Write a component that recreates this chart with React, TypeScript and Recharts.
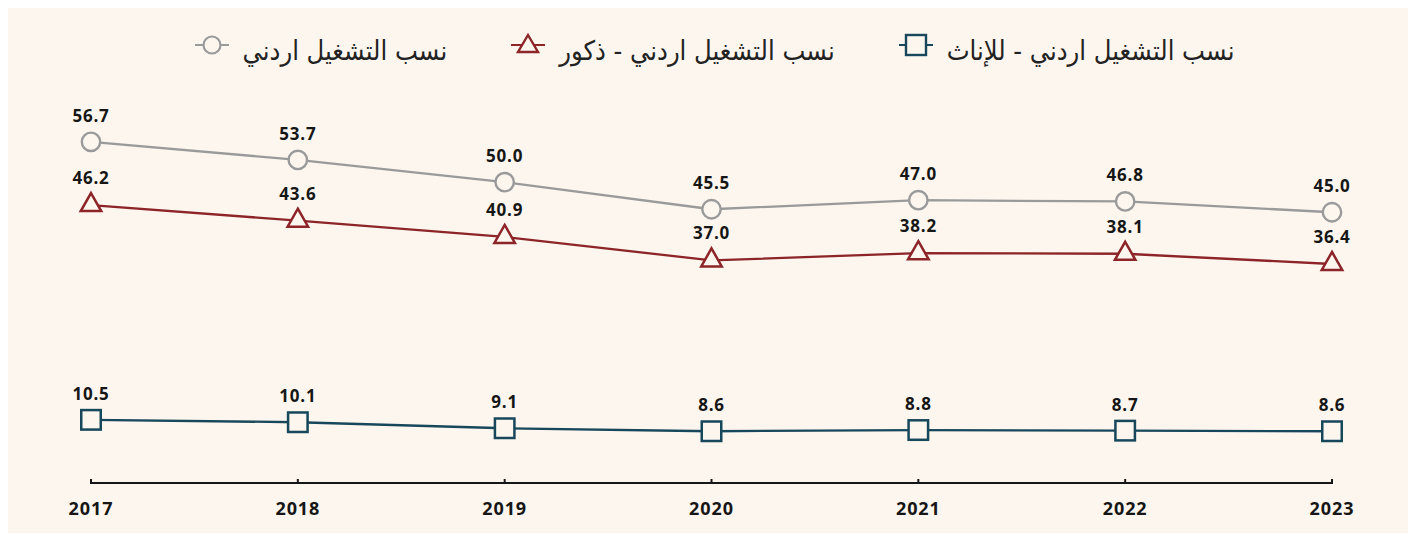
import React from 'react';
import { LineChart, Line, XAxis, YAxis, LabelList } from 'recharts';

const years = ['2017', '2018', '2019', '2020', '2021', '2022', '2023'];
const totalRate = [56.7, 53.7, 50.0, 45.5, 47.0, 46.8, 45.0];
const maleRate = [46.2, 43.6, 40.9, 37.0, 38.2, 38.1, 36.4];
const femaleRate = [10.5, 10.1, 9.1, 8.6, 8.8, 8.7, 8.6];

const seriesNames = {
  total: 'نسب التشغيل اردني',
  male: 'نسب التشغيل اردني - ذكور',
  female: 'نسب التشغيل اردني - للإناث',
};

const BG = '#fdf6ef';
const GRAY = '#9a9a9a';
const RED = '#8c2428';
const NAVY = '#17475b';
const INK = '#161616';

const data = years.map((y, i) => ({
  year: y,
  total: totalRate[i],
  male: maleRate[i],
  female: femaleRate[i],
}));

const circleDot = (props: any) => {
  const { cx, cy, index } = props;
  return <circle key={`c${index}`} cx={cx} cy={cy} r={9.2} fill={BG} stroke={GRAY} strokeWidth={2.4} />;
};

const triangleDot = (props: any) => {
  const { cx, cy, index } = props;
  const w = 20.5;
  const h = 18;
  const d = `M${cx},${cy - (2 * h) / 3} L${cx + w / 2},${cy + h / 3} L${cx - w / 2},${cy + h / 3} Z`;
  return <path key={`t${index}`} d={d} fill={BG} stroke={RED} strokeWidth={2.5} strokeLinejoin="miter" />;
};

const squareDot = (props: any) => {
  const { cx, cy, index } = props;
  const s = 19.5;
  return <rect key={`s${index}`} x={cx - s / 2} y={cy - s / 2} width={s} height={s} fill={BG} stroke={NAVY} strokeWidth={2.5} />;
};

const labelStyle = {
  fontFamily: '"Open Sans", "Noto Sans", sans-serif',
  fontWeight: 700,
  fontSize: 17,
  fill: INK,
  letterSpacing: 0.8,
};

const fmt = (v: any) => Number(v).toFixed(1);

const YearTick = (props: any) => {
  const { x, y, payload } = props;
  return (
    <g>
      <line x1={x} x2={x} y1={y - 4} y2={y + 1} stroke={INK} strokeWidth={2} />
      <text
        x={x}
        y={y + 32}
        textAnchor="middle"
        style={{ fontFamily: '"Open Sans", "Noto Sans", sans-serif', fontWeight: 700, fontSize: 18, letterSpacing: 0.9 }}
        fill={INK}
      >
        {payload.value}
      </text>
    </g>
  );
};

const LegendIcon = ({ kind, color }: { kind: string; color: string }) => (
  <svg width={34} height={26} style={{ display: 'block' }}>
    <line x1={0} x2={34} y1={13} y2={13} stroke={color} strokeWidth={2.2} />
    {kind === 'circle' && <circle cx={17} cy={13} r={8.5} fill={BG} stroke={color} strokeWidth={2.2} />}
    {kind === 'triangle' && <path d="M17,3 L27,20 L7,20 Z" fill={BG} stroke={color} strokeWidth={2.4} />}
    {kind === 'square' && <rect x={7} y={3} width={20} height={20} fill={BG} stroke={color} strokeWidth={2.4} />}
  </svg>
);

const legendItems = [
  { kind: 'circle', color: GRAY, label: seriesNames.total },
  { kind: 'triangle', color: RED, label: seriesNames.male },
  { kind: 'square', color: NAVY, label: seriesNames.female },
];

export default function App() {
  return (
    <div style={{ position: 'relative', width: 1407, height: 525, marginLeft: -3, background: BG }}>
      <div
        style={{
          position: 'absolute',
          top: 24,
          left: 0,
          width: 1407,
          display: 'flex',
          justifyContent: 'center',
          alignItems: 'flex-start',
          gap: 64,
          marginLeft: 6,
        }}
      >
        {legendItems.map((it) => (
          <div key={it.label} style={{ display: 'flex', alignItems: 'flex-start', gap: 14 }}>
            <LegendIcon kind={it.kind} color={it.color} />
            <span
              dir="rtl"
              style={{
                fontFamily: '"DejaVu Sans Condensed", "DejaVu Sans", sans-serif',
                fontSize: 27,
                color: '#222',
                lineHeight: '34px',
                marginTop: 2,
                whiteSpace: 'nowrap',
              }}
            >
              {it.label}
            </span>
          </div>
        ))}
      </div>
      <LineChart width={1407} height={525} data={data} margin={{ top: 114, right: 80, bottom: 10, left: 86 }}>
        <XAxis
          dataKey="year"
          height={40}
          axisLine={{ stroke: INK, strokeWidth: 2 }}
          tickLine={false}
          tickSize={0}
          tickMargin={0}
          tick={<YearTick />}
          interval={0}
        />
        <YAxis hide domain={[0, 60]} />
        <Line
          dataKey="total"
          name={seriesNames.total}
          stroke={GRAY}
          strokeWidth={2.3}
          dot={circleDot}
          activeDot={false}
          isAnimationActive={false}
        >
          <LabelList dataKey="total" position="top" offset={20} formatter={fmt} style={labelStyle} />
        </Line>
        <Line
          dataKey="male"
          name={seriesNames.male}
          stroke={RED}
          strokeWidth={2.3}
          dot={triangleDot}
          activeDot={false}
          isAnimationActive={false}
        >
          <LabelList dataKey="male" position="top" offset={21} formatter={fmt} style={labelStyle} />
        </Line>
        <Line
          dataKey="female"
          name={seriesNames.female}
          stroke={NAVY}
          strokeWidth={2.3}
          dot={squareDot}
          activeDot={false}
          isAnimationActive={false}
        >
          <LabelList dataKey="female" position="top" offset={20} formatter={fmt} style={labelStyle} />
        </Line>
      </LineChart>
    </div>
  );
}
